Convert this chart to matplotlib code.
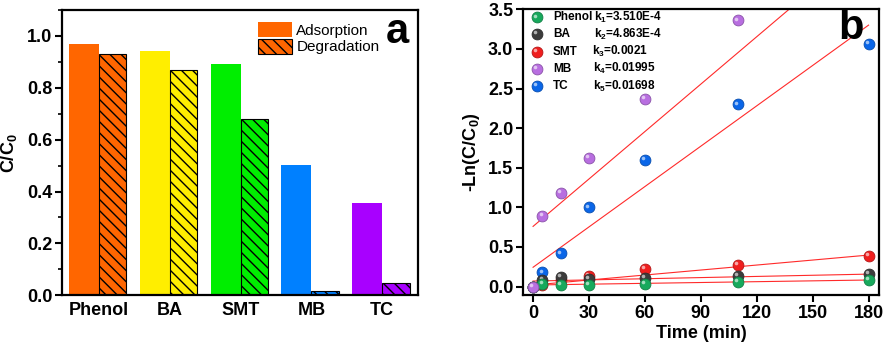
import matplotlib
matplotlib.use("Agg")
import matplotlib.pyplot as plt
import numpy as np
from matplotlib.patches import Patch
from matplotlib.transforms import ScaledTranslation
from matplotlib.ticker import MultipleLocator

plt.rcParams['font.family'] = ['Liberation Sans', 'DejaVu Sans']
plt.rcParams['mathtext.fontset'] = 'custom'
plt.rcParams['mathtext.rm'] = 'Liberation Sans:bold'
plt.rcParams['mathtext.bf'] = 'Liberation Sans:bold'
plt.rcParams['mathtext.it'] = 'Liberation Sans:bold'
plt.rcParams['mathtext.default'] = 'bf'
plt.rcParams['hatch.linewidth'] = 1.0

# ---------------- Panel a data ----------------
pollutants = ["Phenol", "BA", "SMT", "MB", "TC"]
adsorption = [0.969, 0.943, 0.892, 0.503, 0.355]
degradation = [0.931, 0.868, 0.680, 0.018, 0.046]
bar_colors = ["#ff6600", "#ffee00", "#00ee00", "#0080ff", "#a800ff"]

# ---------------- Panel b data ----------------
time_min = [0, 5, 15, 30, 60, 110, 180]
series_names = ["Phenol", "BA", "SMT", "MB", "TC"]
phenol_y = [0.0, 0.03, 0.02, 0.02, 0.03, 0.06, 0.08]
ba_y = [0.0, 0.08, 0.12, 0.10, 0.11, 0.14, 0.16]
smt_y = [0.0, 0.02, 0.08, 0.13, 0.22, 0.27, 0.39]
mb_y = [0.0, 0.89, 1.18, 1.62, 2.37, 3.36]
tc_y = [0.0, 0.18, 0.42, 1.00, 1.60, 2.30, 3.06]
k_values = [3.510e-4, 4.863e-4, 0.0021, 0.01995, 0.01698]
k_labels = ["k$_1$=3.510E-4", "k$_2$=4.863E-4", "k$_3$=0.0021", "k$_4$=0.01995", "k$_5$=0.01698"]
intercepts = [0.02, 0.07, 0.02, 0.76, 0.244]
sphere_colors = ["#17a95c", "#3c3c3c", "#f01e1e", "#b86ee0", "#0a66e8"]
x_ticks_b = [0, 30, 60, 90, 120, 150, 180]

fig = plt.figure(figsize=(8.86, 3.46), dpi=100)
axa = fig.add_axes([0.070, 0.1465, 0.4018, 0.8246])
axb = fig.add_axes([0.5903, 0.1465, 0.4018, 0.8266])

# ---- Panel a ----
x = np.arange(len(pollutants))
wa, wd = 0.424, 0.386
axa.bar(x, adsorption, width=-wa, align='edge', color=bar_colors, linewidth=0)
axa.bar(x, degradation, width=wd, align='edge', color=bar_colors,
        edgecolor='black', linewidth=0.8, hatch='\\\\\\')
axa.set_xlim(-0.524, 4.505)
axa.set_ylim(0, 1.1)
axa.set_xticks(x)
axa.set_xticklabels(pollutants, fontsize=13, fontweight='bold')
axa.set_yticks([0.0, 0.2, 0.4, 0.6, 0.8, 1.0])
axa.set_yticklabels(["0.0", "0.2", "0.4", "0.6", "0.8", "1.0"], fontsize=13, fontweight='bold')
axa.yaxis.set_minor_locator(MultipleLocator(0.1))
axa.tick_params(axis='y', which='major', direction='out', length=5, width=1.5, pad=2)
axa.tick_params(axis='y', which='minor', direction='out', length=3, width=1.2)
axa.tick_params(axis='x', length=0, pad=5)
axa.set_ylabel("C/C$_0$", fontsize=13, fontweight='bold', labelpad=6)
for s in axa.spines.values():
    s.set_linewidth(1.6)
handles = [Patch(facecolor=bar_colors[0], linewidth=0),
           Patch(facecolor=bar_colors[0], edgecolor='black', linewidth=0.8, hatch='\\\\\\')]
axa.legend(handles, ["Adsorption", "Degradation"], loc='upper left',
           bbox_to_anchor=(0.525, 0.99), frameon=False, fontsize=11,
           handlelength=2.2, handleheight=1.15, handletextpad=0.3, labelspacing=0.05,
           borderaxespad=0.2)
axa.text(0.941, 0.923, "a", transform=axa.transAxes, fontsize=30, fontweight='bold',
         ha='center', va='center')

# ---- Panel b ----
all_y = [phenol_y, ba_y, smt_y, mb_y, tc_y]
hl = ScaledTranslation(-1.3 / 72, 1.3 / 72, fig.dpi_scale_trans)


def lighten(c, f):
    rgb = np.array(matplotlib.colors.to_rgb(c))
    return tuple(rgb + (1 - rgb) * f)


def darken(c, f):
    rgb = np.array(matplotlib.colors.to_rgb(c))
    return tuple(rgb * (1 - f))


tfit = np.array([0, 180])
for i in range(len(series_names)):
    axb.plot(tfit, intercepts[i] + k_values[i] * tfit, color='#ff2a2a', lw=0.8, zorder=2)
draw_order = [4, 2, 1, 0, 3]
for j, i in enumerate(draw_order):
    ax_t = time_min[:len(all_y[i])]
    c = sphere_colors[i]
    axb.plot(ax_t, all_y[i], 'o', ms=7.8, color=c, mec=darken(c, 0.25), mew=0.6, zorder=3 + 2 * j)
    axb.plot(ax_t, all_y[i], 'o', ms=2.6, color=lighten(c, 0.6), mew=0,
             transform=axb.transData + hl, zorder=4 + 2 * j)

axb.set_xlim(-5.4, 185.6)
axb.set_ylim(-0.11, 3.5)
axb.set_xticks(x_ticks_b)
axb.set_xticklabels([str(v) for v in x_ticks_b], fontsize=13, fontweight='bold')
yt = [0.0, 0.5, 1.0, 1.5, 2.0, 2.5, 3.0, 3.5]
axb.set_yticks(yt)
axb.set_yticklabels(["%.1f" % v for v in yt], fontsize=13, fontweight='bold')
axb.tick_params(direction='out', length=5, width=1.5, pad=2)
axb.set_xlabel("Time (min)", fontsize=13, fontweight='bold', labelpad=2)
axb.set_ylabel("-Ln(C/C$_0$)", fontsize=13, fontweight='bold', labelpad=4)
for s in axb.spines.values():
    s.set_linewidth(1.6)

# manual legend
rows = [0.972, 0.913, 0.852, 0.792, 0.732]
kx = [0.200, 0.200, 0.195, 0.196, 0.197]
for i in range(len(series_names)):
    c = sphere_colors[i]
    axb.plot([0.040], [rows[i]], 'o', ms=7.8, color=c, mec=darken(c, 0.25), mew=0.6,
             transform=axb.transAxes, clip_on=False, zorder=20)
    axb.plot([0.040], [rows[i]], 'o', ms=2.6, color=lighten(c, 0.6), mew=0,
             transform=axb.transAxes + hl, clip_on=False, zorder=21)
    axb.text(0.084, rows[i], series_names[i], transform=axb.transAxes, fontsize=8.5,
             fontweight='bold', ha='left', va='center')
    axb.text(kx[i], rows[i], k_labels[i], transform=axb.transAxes, fontsize=8.5,
             fontweight='bold', ha='left', va='center')
axb.text(0.921, 0.935, "b", transform=axb.transAxes, fontsize=30, fontweight='bold',
         ha='center', va='center')

fig.savefig("out.png", dpi=100)
